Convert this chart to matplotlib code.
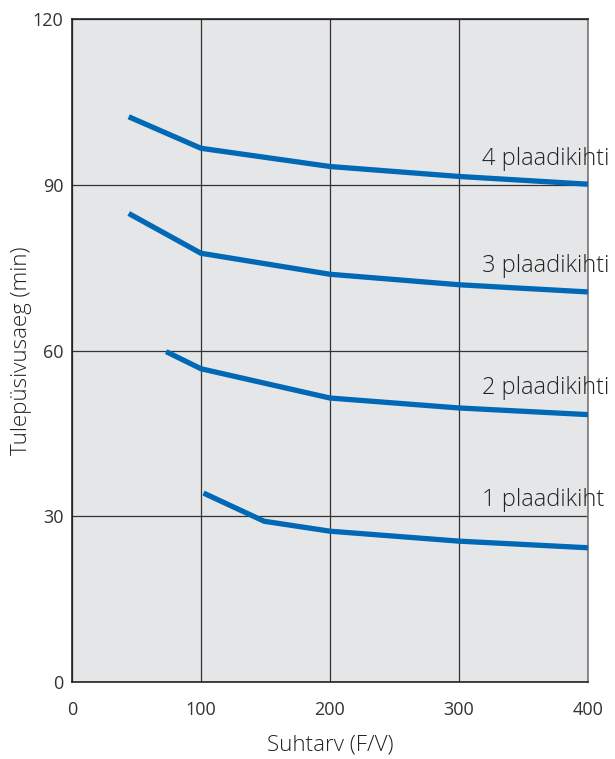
import matplotlib.pyplot as plt

plt.rcParams['font.family'] = ['Open Sans', 'DejaVu Sans']

# andmed (loetud pildilt)
x4 = [44, 100, 200, 300, 400]
y4 = [102.3, 96.6, 93.3, 91.5, 90.1]
x3 = [44, 100, 200, 300, 400]
y3 = [84.8, 77.6, 73.8, 71.9, 70.6]
x2 = [73, 100, 200, 300, 400]
y2 = [59.8, 56.7, 51.4, 49.6, 48.4]
x1 = [102, 149, 200, 300, 400]
y1 = [34.2, 29.1, 27.3, 25.5, 24.3]

labels = ['1 plaadikiht', '2 plaadikihti', '3 plaadikihti', '4 plaadikihti']
label_y = [30.8, 51.0, 73.2, 92.5]

xticks = [0, 100, 200, 300, 400]
yticks = [0, 30, 60, 90, 120]

fig = plt.figure(figsize=(6.15, 7.59), dpi=100)
ax = fig.add_axes([0.117, 0.1014, 0.839, 0.8736])
ax.set_facecolor('#e5e6e8')

blue = '#0068b5'
for xs, ys in [(x1, y1), (x2, y2), (x3, y3), (x4, y4)]:
    ax.plot(xs, ys, color=blue, lw=3.8, solid_capstyle='butt', zorder=3)

for lab, ly in zip(labels, label_y):
    ax.text(318, ly, lab, fontsize=17, color='#222222', ha='left', va='bottom',
            fontweight='light', clip_on=False, zorder=4)

ax.set_xlim(0, 400)
ax.set_ylim(0, 120)
ax.set_xticks(xticks)
ax.set_yticks(yticks)
ax.grid(True, color='#333333', lw=0.9)
ax.set_axisbelow(True)
ax.tick_params(length=0, labelsize=13, colors='#333333')
ax.tick_params(axis='y', pad=6)
ax.tick_params(axis='x', pad=14)
for s in ['left', 'bottom', 'top']:
    ax.spines[s].set_color('#222222')
    ax.spines[s].set_linewidth(1.2)
ax.spines['right'].set_color('#777777')
ax.spines['right'].set_linewidth(1.2)

ax.set_xlabel('Suhtarv (F/V)', fontsize=16, color='#222222', fontweight='light')
ax.set_ylabel('Tulepüsivusaeg (min)', fontsize=16, color='#222222', fontweight='light')
ax.xaxis.set_label_coords(0.5, -0.095)
ax.yaxis.set_label_coords(-0.097, 0.5)
ax.xaxis.label.set_va('center')
ax.yaxis.label.set_va('center')

plt.savefig('out.png', dpi=100)
